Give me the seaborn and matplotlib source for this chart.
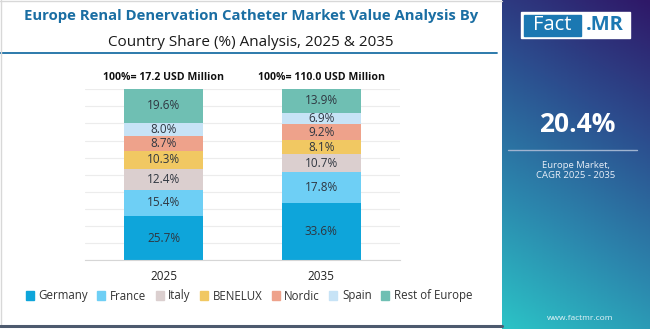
import numpy as np
import pandas as pd
import matplotlib
matplotlib.use("Agg")
import matplotlib.pyplot as plt
import seaborn as sns
from matplotlib.patches import Rectangle
from matplotlib.lines import Line2D
from matplotlib.colors import LinearSegmentedColormap

years = ["2025", "2035"]
countries = ["Germany", "France", "Italy", "BENELUX", "Nordic", "Spain", "Rest of Europe"]
germany = [25.7, 33.6]
france = [15.4, 17.8]
italy = [12.4, 10.7]
benelux = [10.3, 8.1]
nordic = [8.7, 9.2]
spain = [8.0, 6.9]
rest = [19.6, 13.9]
totals_label = ["100%= 17.2 USD Million", "100%= 110.0 USD Million"]
colors = ["#0ea5da", "#6ecff5", "#dbcfcf", "#f1c862", "#eea28b", "#c7e3f6", "#6fbfb3"]
cagr = "20.4%"

series = [germany, france, italy, benelux, nordic, spain, rest]

sns.set_theme(style="white")
plt.rcParams['font.family'] = ['Open Sans', 'DejaVu Sans']

fig = plt.figure(figsize=(6.5, 3.29), dpi=100)
W, H = 650, 329

def fx(x): return x / W
def fy(y): return 1 - y / H

ax = fig.add_axes([fx(85), fy(260), fx(400) - fx(85), fy(89) - fy(260)])

cum = np.zeros(len(years))
cums = []
for s in series:
    bottom = cum.copy()
    cum = cum + np.array(s)
    cums.append((bottom, cum.copy()))

# draw from top-most cumulative down so smaller stacks sit on top
for i in reversed(range(len(series))):
    d = pd.DataFrame({"year": years, "val": cums[i][1]})
    sns.barplot(data=d, x="year", y="val", color=colors[i], width=0.5,
                saturation=1, ax=ax, zorder=2, edgecolor="none")

for i, s in enumerate(series):
    for j in range(len(years)):
        b, t = cums[i][0][j], cums[i][1][j]
        ax.text(j, (b + t) / 2, f"{s[j]:.1f}%", ha="center", va="center",
                fontsize=8.5, color="#2f3640", zorder=3)

for j, lab in enumerate(totals_label):
    ax.text(j, 104, lab, ha="center", va="bottom", fontsize=7.6,
            fontweight="bold", color="#111111")

ax.set_ylim(0, 100.2)
ax.set_xlim(-0.5, 1.5)
ax.set_yticks(np.arange(0, 101, 10))
ax.yaxis.grid(True, color="#ececec", linewidth=0.8, zorder=0)
ax.set_axisbelow(True)
ax.set_yticklabels([])
ax.tick_params(axis="y", length=0)
ax.set_xlabel("")
ax.set_ylabel("")
ax.tick_params(axis="x", which="major", length=0, labelsize=8.5, labelcolor="#222222", pad=7)
ax.set_xticks([-0.5, 0.5, 1.5], minor=True)
ax.tick_params(axis="x", which="minor", length=4, color="#d0d0d0", width=0.8, direction="out")
for sp in ["top", "right", "left"]:
    ax.spines[sp].set_visible(False)
ax.spines["bottom"].set_color("#d6d6d6")
ax.spines["bottom"].set_linewidth(0.8)

# titles
fig.text(fx(251), fy(16), "Europe Renal Denervation Catheter Market Value Analysis By",
         ha="center", va="center", fontsize=10.7, fontweight="bold", color="#1a6ea3")
fig.text(fx(251), fy(42), "Country Share (%) Analysis, 2025 & 2035",
         ha="center", va="center", fontsize=11, color="#1a1a1a")
fig.add_artist(Line2D([fx(0), fx(497)], [fy(52.5), fy(52.5)], color="#1b6fa5", lw=1.3))

# legend
handles = [Rectangle((0, 0), 1, 1, color=c) for c in colors]
fig.legend(handles, countries, loc="center", bbox_to_anchor=(fx(249), fy(296)),
           ncol=7, frameon=False, fontsize=8.3, handlelength=0.7, handleheight=0.7,
           handletextpad=0.4, columnspacing=0.8, labelcolor="#333333")

# borders
fig.add_artist(Line2D([fx(0.5), fx(0.5)], [fy(0), fy(325)], color="#d8d8d8", lw=1))
fig.add_artist(Line2D([fx(0), fx(502)], [fy(0.5), fy(0.5)], color="#d8d8d8", lw=1))
fig.add_artist(Line2D([fx(0), fx(502)], [fy(326), fy(326)], color="#4d5a6e", lw=2.2))

# right panel gradient
pax = fig.add_axes([fx(502), 0, 1 - fx(502), 1])
ny, nx = 200, 100
yy, xx = np.mgrid[0:1:ny * 1j, 0:1:nx * 1j]
t = np.clip(0.78 * yy + 0.22 * (1 - xx), 0, 1)
cmap = LinearSegmentedColormap.from_list("g", ["#2f1868", "#2c4d8e", "#2b86ad", "#2cc3c6"])
pax.imshow(t, cmap=cmap, aspect="auto", extent=[0, 1, 1, 0], vmin=0, vmax=1)
pax.set_xlim(0, 1)
pax.set_ylim(1, 0)
pax.axis("off")

# logo
fig.add_artist(Rectangle((fx(521), fy(38)), fx(630) - fx(521), fy(12) - fy(38),
                         transform=fig.transFigure, color="white"))
fig.add_artist(Rectangle((fx(524), fy(35.5)), fx(581) - fx(524), fy(14.5) - fy(35.5),
                         transform=fig.transFigure, color="#1b78b2"))
fig.text(fx(552.5), fy(25), "Fact", ha="center", va="center", fontsize=14.5,
         color="white")
fig.text(fx(605), fy(25), ".MR", ha="center", va="center", fontsize=14.5,
         fontweight="bold", color="#1b78b2")

fig.text(fx(577), fy(125), cagr, ha="center", va="center", fontsize=19,
         fontweight="bold", color="white")
fig.add_artist(Line2D([fx(508), fx(637)], [fy(149.5), fy(149.5)], color="#9fb3d0", lw=1))
fig.text(fx(576), fy(165), "Europe Market,", ha="center", va="center", fontsize=6.8,
         color="#e8eef8")
fig.text(fx(576), fy(176), "CAGR 2025 - 2035", ha="center", va="center", fontsize=6.8,
         color="#e8eef8")
fig.text(fx(580), fy(318), "www.factmr.com", ha="center", va="center", fontsize=6,
         color="#e8f4f8")

fig.savefig("out.png", dpi=100)
